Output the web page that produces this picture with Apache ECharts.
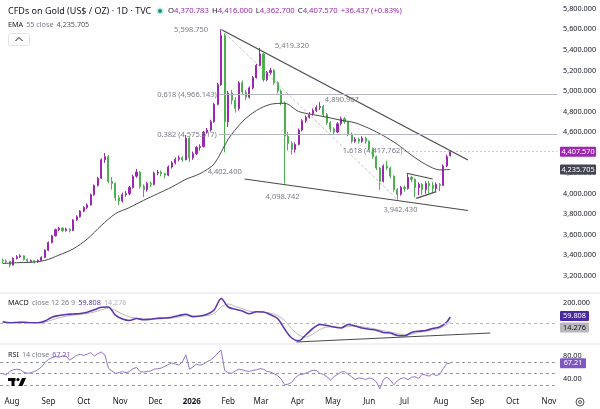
<!DOCTYPE html>
<html>
<head>
<meta charset="utf-8">
<title>CFDs on Gold (US$ / OZ) 1D</title>
<script src="https://cdn.jsdelivr.net/npm/echarts@6/dist/echarts.min.js"></script>
<style>
  html, body { margin: 0; padding: 0; background: #fff; }
  #chart { width: 600px; height: 409px; }
</style>
</head>
<body>
<div id="chart"></div>
<script>
// one candle every 3 days starting 2025-07-24: [open, close, low, high]
const candles = [
  [3350, 3345, 3325, 3368], [3345, 3340, 3318, 3362], [3340, 3305, 3285, 3348], [3305, 3370, 3300, 3380],
  [3370, 3385, 3360, 3402], [3385, 3395, 3375, 3410], [3395, 3360, 3350, 3400], [3360, 3345, 3330, 3368],
  [3340, 3348, 3328, 3358], [3348, 3335, 3320, 3352], [3335, 3350, 3328, 3360], [3350, 3380, 3345, 3390],
  [3380, 3450, 3372, 3458], [3450, 3525, 3440, 3535], [3525, 3590, 3515, 3600], [3590, 3650, 3582, 3660],
  [3650, 3665, 3635, 3678], [3665, 3640, 3625, 3672], [3640, 3655, 3630, 3668], [3655, 3640, 3622, 3662],
  [3640, 3745, 3636, 3752], [3745, 3775, 3735, 3790], [3775, 3830, 3768, 3840], [3830, 3865, 3820, 3878],
  [3865, 3890, 3850, 3905], [3890, 3990, 3885, 4000], [3990, 4080, 3980, 4090], [4080, 4150, 4070, 4165],
  [4150, 4330, 4145, 4345], [4330, 4360, 4300, 4396], [4360, 4120, 4100, 4375], [4120, 4100, 4040, 4160],
  [4100, 3960, 3930, 4110], [3960, 3930, 3890, 3985], [3930, 3990, 3915, 4010], [3990, 4000, 3970, 4025],
  [4000, 4060, 3985, 4075], [4060, 4170, 4050, 4185], [4170, 4210, 4155, 4240], [4210, 4070, 4050, 4220],
  [4070, 4040, 3968, 4090], [4040, 4100, 4020, 4115], [4100, 4090, 4065, 4120], [4090, 4200, 4080, 4215],
  [4200, 4210, 4180, 4230], [4210, 4195, 4170, 4225], [4195, 4180, 4150, 4205], [4180, 4260, 4170, 4275],
  [4260, 4300, 4245, 4318], [4300, 4335, 4285, 4350], [4335, 4350, 4315, 4372], [4350, 4330, 4310, 4365],
  [4330, 4540, 4325, 4570], [4540, 4350, 4309, 4550], [4350, 4390, 4330, 4410], [4390, 4450, 4375, 4465],
  [4450, 4460, 4420, 4480], [4460, 4600, 4450, 4612], [4600, 4620, 4585, 4640], [4620, 4700, 4605, 4720],
  [4700, 4870, 4690, 4885], [4870, 5060, 4860, 5080], [5060, 5540, 5050, 5598.75], [5540, 4700, 4402.4, 5560],
  [4700, 4980, 4650, 5000], [4980, 4910, 4870, 5010], [4910, 4830, 4790, 4940], [4830, 5080, 4810, 5095],
  [5080, 4990, 4960, 5100], [4990, 4940, 4910, 5010], [4940, 5030, 4925, 5045], [5030, 5130, 5015, 5145],
  [5130, 5250, 5120, 5265], [5250, 5360, 5240, 5419.32], [5360, 5110, 5090, 5370], [5110, 5180, 5095, 5195],
  [5180, 5200, 5160, 5225], [5200, 5080, 5060, 5215], [5080, 5000, 4975, 5095], [5000, 4880, 4860, 5015],
  [4880, 4560, 4098.742, 4895], [4560, 4490, 4420, 4600], [4490, 4430, 4380, 4510], [4430, 4480, 4400, 4500],
  [4480, 4620, 4470, 4635], [4620, 4710, 4605, 4725], [4710, 4745, 4690, 4760], [4745, 4780, 4730, 4795],
  [4780, 4810, 4760, 4830], [4810, 4840, 4795, 4860], [4840, 4850, 4815, 4890.967], [4850, 4770, 4750, 4865],
  [4770, 4690, 4670, 4785], [4690, 4630, 4600, 4705], [4630, 4600, 4570, 4645], [4600, 4680, 4590, 4695],
  [4680, 4730, 4665, 4750], [4730, 4700, 4680, 4745], [4700, 4580, 4560, 4710], [4580, 4510, 4490, 4595],
  [4510, 4530, 4495, 4550], [4530, 4510, 4490, 4545], [4510, 4540, 4495, 4560], [4540, 4510, 4485, 4555],
  [4510, 4440, 4420, 4520], [4440, 4360, 4340, 4450], [4360, 4250, 4230, 4370], [4250, 4120, 4036, 4260],
  [4120, 4270, 4110, 4285], [4270, 4250, 4230, 4320], [4250, 4170, 4150, 4265], [4170, 4040, 4020, 4180],
  [4040, 3995, 3942.43, 4055], [3995, 4060, 3980, 4075], [4060, 4050, 4020, 4080], [4050, 4160, 4040, 4195],
  [4160, 4140, 4110, 4175], [4140, 4060, 3965, 4150], [4060, 4090, 3985, 4110], [4090, 4040, 3990, 4105],
  [4040, 4100, 4000, 4120], [4100, 4080, 4005, 4125], [4080, 4050, 4010, 4115], [4050, 4090, 4015, 4110],
  [4090, 4080, 4025, 4105], [4080, 4270, 4075, 4285], [4270, 4360, 4260, 4380], [4370.783, 4407.57, 4362.7, 4416]
];

// EMA 55 read at [candle index, value]
const ema55 = [
  [0, 3320], [4, 3328], [8, 3332], [12, 3350], [16, 3402], [20, 3462], [24, 3558], [28, 3690],
  [32, 3805], [36, 3865], [40, 3935], [44, 4000], [48, 4065], [52, 4140], [56, 4195], [60, 4290],
  [64, 4530], [68, 4700], [72, 4810], [76, 4870], [80, 4880], [84, 4800], [88, 4770], [92, 4745],
  [96, 4715], [100, 4690], [104, 4635], [108, 4565], [112, 4480], [116, 4375], [120, 4285], [124, 4232],
  [127, 4235.705]
];

// MACD (12 26 9) and signal at [candle index, value]
const macdLine = [
  [0, 12], [2, 2], [4, 5], [6, 8], [8, 2], [10, 2], [12, 20], [14, 58], [16, 75], [18, 85],
  [20, 90], [22, 95], [24, 108], [26, 132], [28, 157], [30, 160], [32, 78], [34, 40], [36, 25], [38, 45],
  [40, 32], [42, 38], [44, 47], [46, 50], [48, 58], [50, 75], [52, 88], [54, 63], [56, 70], [58, 88],
  [60, 130], [62, 245], [64, 160], [66, 138], [68, 120], [70, 92], [72, 112], [74, 110], [76, 82], [78, 45],
  [80, -60], [82, -150], [84, -178], [86, -120], [88, -55], [90, -15], [92, -25], [94, -40], [96, -50], [98, -15],
  [100, -30], [102, -50], [104, -62], [106, -72], [108, -95], [110, -100], [112, -125], [114, -128], [116, -95], [118, -82],
  [120, -75], [122, -55], [124, -40], [126, 10], [127, 59.808]
];
const macdSignal = [
  [0, 8], [2, 6], [4, 5], [6, 6], [8, 5], [10, 3], [12, 8], [14, 30], [16, 52], [18, 68],
  [20, 78], [22, 86], [24, 95], [26, 110], [28, 130], [30, 148], [32, 125], [34, 90], [36, 60], [38, 48],
  [40, 42], [42, 38], [44, 40], [46, 44], [48, 50], [50, 60], [52, 72], [54, 72], [56, 68], [58, 75],
  [60, 95], [62, 160], [64, 190], [66, 165], [68, 145], [70, 118], [72, 112], [74, 110], [76, 98], [78, 75],
  [80, 25], [82, -55], [84, -120], [86, -140], [88, -110], [90, -65], [92, -40], [94, -38], [96, -45], [98, -35],
  [100, -30], [102, -38], [104, -50], [106, -62], [108, -78], [110, -90], [112, -105], [114, -118], [116, -112], [118, -95],
  [120, -82], [122, -68], [124, -52], [126, -15], [127, 14.276]
];

// RSI 14, one value per candle
const rsi14 = [
  50, 47, 53, 56, 57, 56, 52, 50, 51, 53, 56, 61, 68, 74, 77, 79, 78, 80, 80, 73,
  77, 81, 83, 81, 83, 86, 80, 84, 87, 82, 59, 54, 50, 51, 53, 51, 53, 58, 60, 53,
  52, 53, 54, 57, 58, 59, 62, 65, 68, 66, 64, 70, 82, 57, 61, 66, 64, 66, 70, 73,
  78, 85, 90, 55, 51, 50, 54, 57, 56, 54, 53, 55, 56, 58, 57, 53, 52, 49, 46, 40,
  30, 31, 34, 42, 47, 48, 50, 53, 55, 55, 50, 48, 44, 38, 44, 48, 52, 53, 48, 44,
  39, 42, 41, 39, 42, 40, 35, 23, 39, 43, 38, 30, 37, 41, 42, 39, 43, 44, 41, 48,
  47, 45, 49, 46, 48, 58, 67, 67.21
];

const monthNames = ['Jan', 'Feb', 'Mar', 'Apr', 'May', 'Jun', 'Jul', 'Aug', 'Sep', 'Oct', 'Nov', 'Dec'];

// drawings on the price pane: [date, price] pairs
const trendLines = [
  [['2026-01-26', 5598.75], ['2026-08-24', 4328]],
  [['2026-02-15', 4143], ['2026-08-24', 3836]],
  [['2026-07-03', 4199], ['2026-07-25', 4143]],
  [['2026-07-11', 3955], ['2026-07-28', 4020]]
];
const fibTrend = [['2026-01-26', 5598.75], ['2026-06-25', 3942.43]];
const fibLevels = [
  { label: '0.618 (4,966.143)', from: '2026-01-24', value: 4966.143 },
  { label: '0.382 (4,575.517)', from: '2026-01-24', value: 4575.517 }
];
const extLevel = { label: '1.618 (4,417.762)', from: '2026-07-01', value: 4417.762 };
const macdTrend = [['2026-03-31', -190], ['2026-09-12', -100]];

// price notes: text, candle index, price
const notes = [
  ['5,598.750', 62, 5598.75],
  ['5,419.320', 73, 5419.32],
  ['4,890.967', 90, 4890.967],
  ['4,402.400', 63, 4402.4],
  ['4,098.742', 80, 4098.742],
  ['3,942.430', 112, 3942.43]
];

const lastClose = 4407.57;
const lastEma = 4235.705;
const lastMacd = 59.808;
const lastSignal = 14.276;
const lastRsi = 67.21;

// ---------------------------------------------------------------
const DAY = 864e5;
function toTime(s) {
  const p = s.split('-');
  return new Date(+p[0], +p[1] - 1, +p[2]).getTime();
}
function candleTime(i) {
  return new Date(2025, 6, 24 + 3 * i).getTime();
}
const base = new Date(2025, 7, 1).getTime();
const axisMin = base - 10.2 * DAY;
const axisMax = base + 463.8 * DAY;

const FONT = 'Noto Sans';
const TXT = '#131722';
const GREY = '#787b86';
const UP = '#9c27b0';
const DOWN = '#4caf50';

function fmt(v, d) {
  return v.toLocaleString('en-US', { minimumFractionDigits: d, maximumFractionDigits: d });
}
function linePair(pair) {
  return [{ coord: [toTime(pair[0][0]), pair[0][1]] }, { coord: [toTime(pair[1][0]), pair[1][1]] }];
}

const candleData = candles.map((c, i) => [candleTime(i), c[0], c[1], c[2], c[3]]);
const byIndex = arr => arr.map(p => [candleTime(p[0]), p[1]]);

const priceDrawings = trendLines.map(linePair).map(l => {
  l[0].lineStyle = { color: '#4a4a4a', width: 1.2, type: 'solid' };
  return l;
});
const fibTrendLine = linePair(fibTrend);
fibTrendLine[0].lineStyle = { color: '#c4c4c4', width: 1, type: [3, 2] };
priceDrawings.push(fibTrendLine);
fibLevels.forEach(f => {
  priceDrawings.push([
    { coord: [toTime(f.from), f.value], lineStyle: { color: '#b2b5be', width: 1, type: 'solid' } },
    { coord: [axisMax, f.value] }
  ]);
});
priceDrawings.push([
  { coord: [toTime(extLevel.from), extLevel.value], lineStyle: { color: '#9598a1', width: 1, type: [1, 3] } },
  { coord: [axisMax, extLevel.value] }
]);

const hiddenX = {
  type: 'time', min: axisMin, max: axisMax,
  axisLine: { show: false }, axisTick: { show: false }, axisLabel: { show: false }, splitLine: { show: false }
};

const chart = echarts.init(document.getElementById('chart'), null, { renderer: 'canvas' });

chart.setOption({
  animation: false,
  backgroundColor: '#ffffff',
  grid: [
    { left: 0, right: 43, top: 8.8, height: 287.6 },
    { left: 0, right: 43, top: 293, height: 50 },
    { left: 0, right: 43, top: 344.5, height: 46 }
  ],
  xAxis: [
    Object.assign({ gridIndex: 0 }, hiddenX),
    Object.assign({ gridIndex: 1 }, hiddenX),
    {
      gridIndex: 2, type: 'time', min: axisMin, max: axisMax,
      splitNumber: 16, minInterval: 28 * DAY, maxInterval: 31 * DAY,
      axisLine: { show: false }, axisTick: { show: false }, splitLine: { show: false },
      axisLabel: {
        margin: 7, fontSize: 8, color: TXT, fontFamily: FONT,
        formatter: v => {
          const d = new Date(v);
          return d.getMonth() === 0 ? '{y|' + d.getFullYear() + '}' : monthNames[d.getMonth()];
        },
        rich: { y: { fontSize: 8, fontWeight: 'bold', color: TXT, fontFamily: FONT } }
      }
    }
  ],
  yAxis: [
    {
      gridIndex: 0, position: 'right', min: 3000, max: 5800, interval: 200, scale: true,
      axisLine: { show: false }, axisTick: { show: false }, splitLine: { show: false },
      axisLabel: { margin: 6, fontSize: 7.3, color: TXT, fontFamily: FONT,
        formatter: v => (v < 3200 ? '' : fmt(v, 3)) }
    },
    {
      gridIndex: 1, position: 'right', min: -200, max: 300, interval: 200,
      axisLine: { show: false }, axisTick: { show: false }, splitLine: { show: false },
      axisLabel: { margin: 6, fontSize: 7.3, color: TXT, fontFamily: FONT,
        formatter: v => (v === 200 ? '200.000' : '') }
    },
    {
      gridIndex: 2, position: 'right', min: 20, max: 100, interval: 20,
      axisLine: { show: false }, axisTick: { show: false }, splitLine: { show: false },
      axisLabel: { margin: 6, fontSize: 7.3, color: TXT, fontFamily: FONT,
        formatter: v => (v === 40 || v === 80 ? v.toFixed(2) : '') }
    }
  ],
  series: [
    {
      name: 'Gold', type: 'candlestick', xAxisIndex: 0, yAxisIndex: 0,
      data: candleData, encode: { x: 0, y: [1, 2, 3, 4] },
      barWidth: 1.6,
      itemStyle: { color: UP, color0: DOWN, borderColor: UP, borderColor0: DOWN, borderWidth: 1 },
      markLine: {
        silent: true, symbol: 'none', animation: false,
        label: { show: false },
        data: priceDrawings
      }
    },
    {
      name: 'EMA 55', type: 'line', xAxisIndex: 0, yAxisIndex: 0,
      data: byIndex(ema55), smooth: 0.3, showSymbol: false,
      lineStyle: { color: '#4a4a4a', width: 1 }
    },
    {
      name: 'Signal', type: 'line', xAxisIndex: 1, yAxisIndex: 1,
      data: byIndex(macdSignal), smooth: 0.3, showSymbol: false, clip: false,
      lineStyle: { color: '#b8b8b8', width: 1 }
    },
    {
      name: 'MACD', type: 'line', xAxisIndex: 1, yAxisIndex: 1,
      data: byIndex(macdLine), smooth: 0.3, showSymbol: false, clip: false,
      lineStyle: { color: '#5e35b1', width: 1.6 },
      markLine: {
        silent: true, symbol: 'none', animation: false, label: { show: false },
        data: [
          { yAxis: 0, lineStyle: { color: '#b2b5be', width: 1, type: [3, 3] } },
          [{ coord: [toTime(macdTrend[0][0]), macdTrend[0][1]], lineStyle: { color: '#4a4a4a', width: 1.2, type: 'solid' } },
           { coord: [toTime(macdTrend[1][0]), macdTrend[1][1]] }]
        ]
      }
    },
    {
      name: 'RSI', type: 'line', xAxisIndex: 2, yAxisIndex: 2,
      data: rsi14.map((v, i) => [candleTime(i), v]), showSymbol: false,
      lineStyle: { color: '#9575cd', width: 1 },
      markLine: {
        silent: true, symbol: 'none', animation: false, label: { show: false },
        lineStyle: { color: '#9598a1', width: 1, type: [3, 3] },
        data: [{ yAxis: 70 }, { yAxis: 50 }, { yAxis: 30 }]
      }
    }
  ]
});

// ---------------------------------------------------------------
// overlay texts positioned from the axes
function px(gridIdx, t, v) {
  return chart.convertToPixel({ xAxisIndex: gridIdx, yAxisIndex: gridIdx }, [t, v]);
}
const noteOffsets = [
  { dx: -13, dy: 0, align: 'right' },
  { dx: 15, dy: -2, align: 'left' },
  { dx: 5, dy: -2, align: 'left' },
  { dx: 0, dy: 20, align: 'center' },
  { dx: -2, dy: 13, align: 'center' },
  { dx: 3, dy: 10, align: 'center' }
];
const g = [];
function txt(x, y, text, opts) {
  g.push({
    type: 'text', x: x, y: y, z: 100,
    style: Object.assign({ text: text, fill: GREY, fontSize: 7.5, fontFamily: FONT,
      align: 'left', verticalAlign: 'middle' }, opts || {})
  });
}
notes.forEach((n, k) => {
  const p = px(0, candleTime(n[1]), n[2]);
  const o = noteOffsets[k];
  txt(p[0] + o.dx, p[1] + o.dy, n[0], { align: o.align });
});
fibLevels.concat([extLevel]).forEach(f => {
  const p = px(0, toTime(f.from), f.value);
  txt(p[0] - 2, p[1], f.label, { align: 'right' });
});

function box(y, text, bg, fg, w) {
  g.push({ type: 'rect', z: 100, shape: { x: 560, y: y - 5, width: w, height: 10, r: 1 }, style: { fill: bg } });
  g.push({ type: 'text', z: 101, x: 560 + w / 2, y: y,
    style: { text: text, fill: fg, fontSize: 7.3, fontFamily: FONT, align: 'center', verticalAlign: 'middle' } });
}
const lastT = candleTime(candles.length - 1);
box(px(0, lastT, lastClose)[1], fmt(lastClose, 3), UP, '#ffffff', 36);
box(px(0, lastT, lastEma)[1], fmt(lastEma, 3), '#434651', '#ffffff', 36);
box(px(1, lastT, lastMacd)[1] - 1, fmt(lastMacd, 3), '#4a2a9e', '#ffffff', 29);
box(px(1, lastT, lastSignal)[1] + 6, fmt(lastSignal, 3), '#b8b8bd', TXT, 29);
box(px(2, lastT, lastRsi)[1], fmt(lastRsi, 2), '#7e57c2', '#ffffff', 26);

// pane separators
[293, 344].forEach(y => g.push({ type: 'line', z: 90, shape: { x1: 0, y1: y, x2: 600, y2: y },
  style: { stroke: '#e0e3eb', lineWidth: 1 } }));

// header
g.push({ type: 'text', x: 8, y: 11, z: 100, style: { text: 'CFDs on Gold (US$ / OZ) · 1D · TVC',
  fill: TXT, fontSize: 9, fontFamily: FONT, verticalAlign: 'middle' } });
g.push({ type: 'circle', z: 100, shape: { cx: 160, cy: 11, r: 3.5 }, style: { fill: '#c8ebe3' } });
g.push({ type: 'circle', z: 101, shape: { cx: 160, cy: 11, r: 2 }, style: { fill: '#089981' } });
g.push({ type: 'text', x: 168, y: 11, z: 100, style: {
  text: '{k|O}{v|4,370.783} {k|H}{v|4,416.000} {k|L}{v|4,362.700} {k|C}{v|4,407.570} {v|+36.437 (+0.83%)}',
  verticalAlign: 'middle', fontFamily: FONT,
  rich: { k: { fill: TXT, fontSize: 7.7, fontFamily: FONT }, v: { fill: UP, fontSize: 7.7, fontFamily: FONT } } } });
g.push({ type: 'text', x: 8, y: 24.5, z: 100, style: {
  text: '{k|EMA} {g|55 close} {v|4,235.705}', verticalAlign: 'middle', fontFamily: FONT,
  rich: { k: { fill: TXT, fontSize: 7.2, fontFamily: FONT }, g: { fill: GREY, fontSize: 7.2, fontFamily: FONT },
    v: { fill: '#555555', fontSize: 7.2, fontFamily: FONT } } } });
g.push({ type: 'rect', z: 100, shape: { x: 8.5, y: 33.5, width: 21, height: 12, r: 2 },
  style: { fill: '#ffffff', stroke: '#e0e3eb', lineWidth: 1 } });
g.push({ type: 'polyline', z: 101, shape: { points: [[15.5, 41], [19, 37.5], [22.5, 41]] },
  style: { stroke: TXT, lineWidth: 1, fill: null } });

g.push({ type: 'text', x: 8, y: 303, z: 100, style: {
  text: '{k|MACD} {g|close 12 26 9} {m|59.808} {s|14.276}', verticalAlign: 'middle', fontFamily: FONT,
  rich: { k: { fill: TXT, fontSize: 7.2, fontFamily: FONT }, g: { fill: GREY, fontSize: 7.2, fontFamily: FONT },
    m: { fill: '#5e35b1', fontSize: 7.2, fontFamily: FONT }, s: { fill: '#b2b5be', fontSize: 7.2, fontFamily: FONT } } } });
g.push({ type: 'text', x: 8, y: 354.5, z: 100, style: {
  text: '{k|RSI} {g|14 close} {r|67.21}', verticalAlign: 'middle', fontFamily: FONT,
  rich: { k: { fill: TXT, fontSize: 7.2, fontFamily: FONT }, g: { fill: GREY, fontSize: 7.2, fontFamily: FONT },
    r: { fill: '#7e57c2', fontSize: 7.2, fontFamily: FONT } } } });

// TradingView mark
g.push({ type: 'rect', z: 100, shape: { x: 8, y: 378, width: 7.5, height: 3 }, style: { fill: '#000' } });
g.push({ type: 'rect', z: 100, shape: { x: 11.5, y: 378, width: 3, height: 8 }, style: { fill: '#000' } });
g.push({ type: 'circle', z: 100, shape: { cx: 18, cy: 379.5, r: 1.6 }, style: { fill: '#000' } });
g.push({ type: 'polygon', z: 100, shape: { points: [[22, 378], [26, 378], [22.5, 386], [18.5, 386]] }, style: { fill: '#000' } });

// settings mark bottom right
g.push({ type: 'circle', z: 100, shape: { cx: 580, cy: 402, r: 4 }, style: { fill: 'none', stroke: '#555', lineWidth: 1 } });
g.push({ type: 'circle', z: 100, shape: { cx: 580, cy: 402, r: 1.5 }, style: { fill: 'none', stroke: '#555', lineWidth: 1 } });

chart.setOption({ graphic: g });
</script>
</body>
</html>
